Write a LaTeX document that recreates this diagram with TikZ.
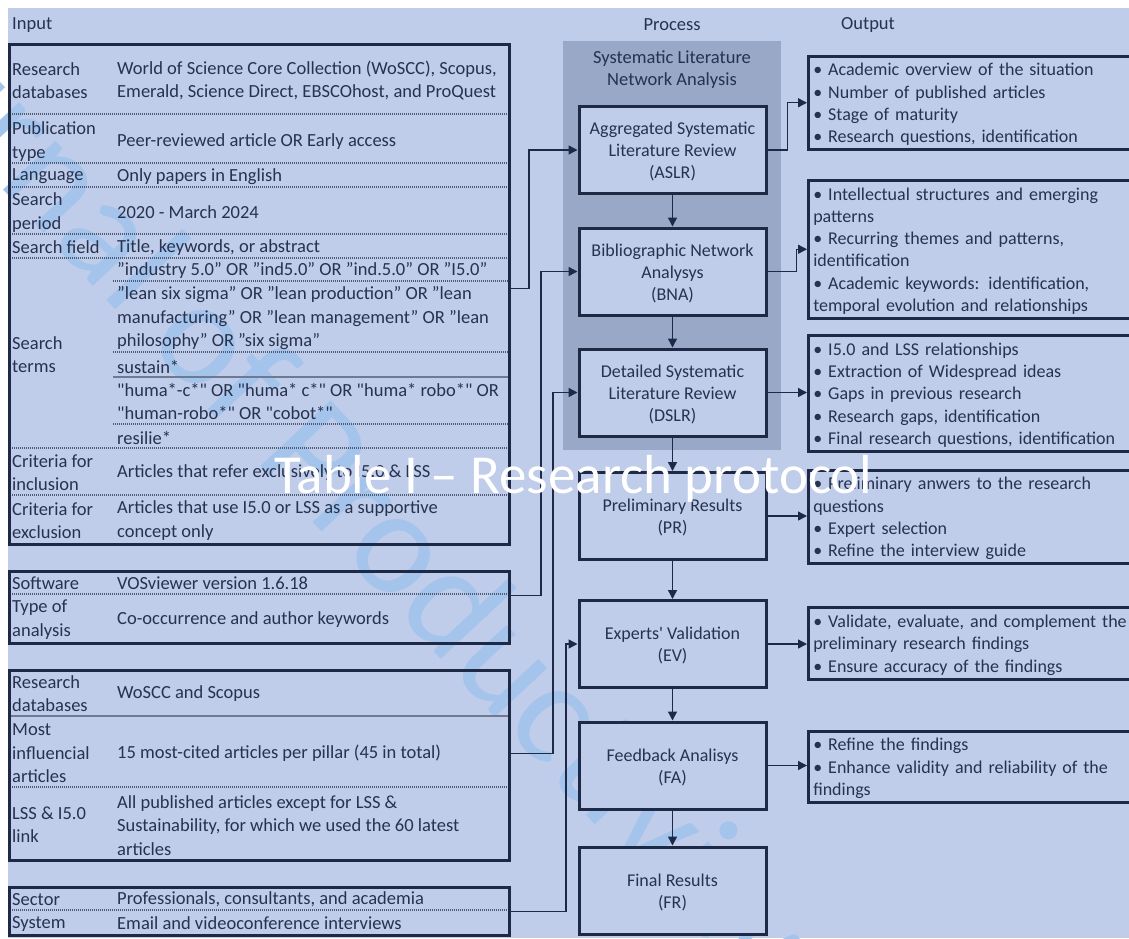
\documentclass[tikz,border=0pt]{standalone}
\usepackage{fontspec}
\setmainfont{Carlito}
\usetikzlibrary{arrows.meta}
\definecolor{bg}{HTML}{BFCDEA}
\definecolor{panel}{HTML}{98A8C6}
\definecolor{navy}{HTML}{1E2A45}
\definecolor{txt}{HTML}{26324E}
\definecolor{divg}{HTML}{4E5A74}
\definecolor{sdiv}{HTML}{6E7A94}
\definecolor{wm}{HTML}{A5C4EC}
\font\qa="Carlito" at 18.5pt
\font\qb="Carlito" at 18pt
\newcommand\dq{{\qa"}}
\newcommand\apos{{\qb'}}
\newcommand\tp{\rule{0pt}{16pt}}
\begin{document}
\begin{tikzpicture}[x=1pt,y=-1pt,
  cell/.style={anchor=west,inner sep=0pt,align=left,text=txt,yshift=-1.5pt,font=\fontsize{18.5}{23.5}\selectfont},
  head/.style={inner sep=0pt,text=txt,font=\fontsize{18.5}{22}\selectfont},
  frame/.style={draw=navy,line width=3pt,anchor=north west,inner sep=0pt,minimum width=500pt},
  dotdiv/.style={draw=divg,line width=1.2pt,dash pattern=on 1pt off 1pt},
  soldiv/.style={draw=sdiv,line width=1.6pt},
  proc/.style={draw=navy,line width=3pt,fill=bg,minimum width=187pt,minimum height=87pt,align=center,text=txt,inner sep=0pt,font=\fontsize{18}{22}\selectfont},
  outbox/.style={draw=navy,line width=2.5pt,anchor=north west,text width=325pt,inner xsep=5pt,inner ysep=0pt,align=left,text=txt,font=\fontsize{18}{22.3}\selectfont},
  conn/.style={draw=navy,line width=1.4pt,-{Triangle[length=9pt,width=9pt]}}
]
\useasboundingbox (0,0) rectangle (1129,938);
\clip (0,0) rectangle (1129,938);
\fill[white] (0,0) rectangle (1129,938);
\fill[bg] (8,8) rectangle (1129,938);
% watermark
\node[rotate=-47,anchor=base west,inner sep=0pt,text=wm,font=\fontsize{150}{150}\selectfont] (wmk) at (50,240) {\llap{Journ}al of Productivity and Performance Management};
% headers
\node[head,anchor=west] (hin) at (12,25) {Input};
\node[head] (hpr) at (672,25) {Process};
\node[head] (hout) at (868,25) {Output};
% panel
\fill[panel] (563,41) rectangle (781,450);
\node[head,align=center,font=\fontsize{18.5}{22}\selectfont] (slna) at (672,70) {Systematic Literature\\Network Analysis};
% ---------- Table 1
\foreach \y in {114,163,187,234,258,448,495} \draw[dotdiv] (8,\y) -- (508,\y);
\foreach \y in {281,352,424} \draw[dotdiv] (113,\y) -- (508,\y);
\draw[soldiv] (113,377) -- (508,377);
\node[frame,minimum height=500pt] (T1) at (8,43) {};
\node[cell] (a1) at (12,79) {Research\\databases};
\node[cell] (b1) at (117,79) {World of Science Core Collection (WoSCC), Scopus,\\Emerald, Science Direct, EBSCOhost, and ProQuest};
\node[cell] (a2) at (12,140) {Publication\\type};
\node[cell] (b2) at (117,140) {Peer-reviewed article OR Early access};
\node[cell] (a3) at (12,175) {Language};
\node[cell] (b3) at (117,175) {Only papers in English};
\node[cell] (a4) at (12,211) {Search\\period};
\node[cell] (b4) at (117,211) {2020 - March 2024};
\node[cell] (a5) at (12,246) {Search field};
\node[cell] (b5) at (117,246) {Title, keywords, or abstract};
\node[cell] (a6) at (12,353) {Search\\terms};
\node[cell] (b6a) at (117,269) {”industry 5.0” OR ”ind5.0” OR ”ind.5.0” OR ”I5.0”};
\node[cell] (b6b) at (117,317) {”lean six sigma” OR ”lean production” OR ”lean\\manufacturing” OR ”lean management” OR ”lean\\philosophy” OR ”six sigma”};
\node[cell] (b6c) at (117,365) {sustain*};
\node[cell] (b6d) at (117,400) {\dq huma*-c*\dq{} OR \dq huma* c*\dq{} OR \dq huma* robo*\dq{} OR\\\dq human-robo*\dq{} OR \dq cobot*\dq};
\node[cell] (b6e) at (117,436) {resilie*};
\node[cell] (a7) at (12,471) {Criteria for\\inclusion};
\node[cell] (b7) at (117,471) {Articles that refer exclusively to I5.0 \& LSS};
\node[cell] (a8) at (12,519) {Criteria for\\exclusion};
\node[cell] (b8) at (117,519) {Articles that use I5.0 or LSS as a supportive\\concept only};
% ---------- Table 2
\draw[dotdiv] (8,594) -- (508,594);
\node[frame,minimum height=72pt] (T2) at (8,570) {};
\node[cell] (c1) at (12,582) {Software};
\node[cell] (d1) at (117,582) {VOSviewer version 1.6.18};
\node[cell] (c2) at (12,618) {Type of\\analysis};
\node[cell] (d2) at (117,618) {Co-occurrence and author keywords};
% ---------- Table 3
\draw[soldiv] (8,716) -- (508,716);
\draw[dotdiv] (8,787) -- (508,787);
\node[frame,minimum height=190pt] (T3) at (8,669) {};
\node[cell] (e1) at (12,692) {Research\\databases};
\node[cell] (f1) at (117,692) {WoSCC and Scopus};
\node[cell] (e2) at (12,752) {Most\\influencial\\articles};
\node[cell] (f2) at (117,752) {15 most-cited articles per pillar (45 in total)};
\node[cell] (e3) at (12,823) {LSS \& I5.0\\link};
\node[cell] (f3) at (117,824) {All published articles except for LSS \&\\Sustainability, for which we used the 60 latest\\articles};
% ---------- Table 4
\draw[dotdiv] (8,910) -- (508,910);
\node[frame,minimum height=48pt] (T4) at (8,886) {};
\node[cell] (g1) at (12,898) {Sector};
\node[cell] (h1) at (117,898) {Professionals, consultants, and academia};
\node[cell] (g2) at (12,922) {System};
\node[cell] (h2) at (117,922) {Email and videoconference interviews};
% ---------- Process boxes
\node[proc] (ASLR) at (672.5,150) {\tp Aggregated Systematic\\Literature Review\\(ASLR)};
\node[proc] (BNA) at (672.5,271.5) {\tp Bibliographic Network\\Analysys\\(BNA)};
\node[proc] (DSLR) at (672.5,392.5) {\tp Detailed Systematic\\Literature Review\\(DSLR)};
\node[proc] (PR) at (672.5,516) {\tp Preliminary Results\\(PR)};
\node[proc] (EV) at (672.5,644) {\tp Experts\apos{} Validation\\(EV)};
\node[proc] (FA) at (672.5,765.5) {\tp Feedback Analisys\\(FA)};
\node[proc] (FR) at (672.5,890.5) {\tp Final Results\\(FR)};
% ---------- Output boxes
\node[outbox,minimum height=93pt] (O1) at (807,55) {\tp• Academic overview of the situation\\• Number of published articles\\• Stage of maturity\\• Research questions, identification};
\node[outbox,minimum height=138pt] (O2) at (807,179) {\tp• Intellectual structures and emerging\\patterns\\• Recurring themes and patterns,\\identification\\• Academic keywords: identification,\\temporal evolution and relationships};
\node[outbox,minimum height=116pt] (O3) at (807,334) {\tp• I5.0 and LSS relationships\\• Extraction of Widespread ideas\\• Gaps in previous research\\• Research gaps, identification\\• Final research questions, identification};
\node[outbox,minimum height=93pt] (O4) at (807,469) {\tp• Preliminary anwers to the research\\questions\\• Expert selection\\• Refine the interview guide};
\node[outbox,minimum height=72pt] (O5) at (807,606) {\tp• Validate, evaluate, and complement the\\preliminary research findings\\• Ensure accuracy of the findings};
\node[outbox,minimum height=71pt] (O6) at (807,730) {\tp• Refine the findings\\• Enhance validity and reliability of the\\findings};
% ---------- Connectors
\draw[conn] ([yshift=6pt]T1.east) -- ++(18,0) |- (ASLR.west);
\draw[conn] ([yshift=12pt]T2.east) -- ++(30,0) |- (BNA.west);
\draw[conn] ([yshift=12pt]T3.east) -- ++(42,0) |- (DSLR.west);
\draw[conn] (T4.east) -- ++(55,0) |- (EV.west);
\draw[conn] (ASLR.south) -- (BNA.north);
\draw[conn] (BNA.south) -- (DSLR.north);
\draw[conn] (DSLR.south) -- (PR.north);
\draw[conn] (PR.south) -- (EV.north);
\draw[conn] (EV.south) -- (FA.north);
\draw[conn] (FA.south) -- (FR.north);
\draw[conn] (ASLR.east) -- ++(20,0) |- (O1.west);
\draw[conn] (BNA.east) -- ++(29,0) |- (O2.west);
\draw[conn] (DSLR.east) -- (DSLR.east -| O3.west);
\draw[conn] (PR.east) -- (PR.east -| O4.west);
\draw[conn] (EV.east) -- (EV.east -| O5.west);
\draw[conn] (FA.east) -- (FA.east -| O6.west);
% ---------- overlay title
\node[anchor=base west,inner sep=0pt,text=white,font=\fontsize{55}{60}\selectfont] (ttl) at (274,493) {Table I – Research protocol};
\end{tikzpicture}
\end{document}
